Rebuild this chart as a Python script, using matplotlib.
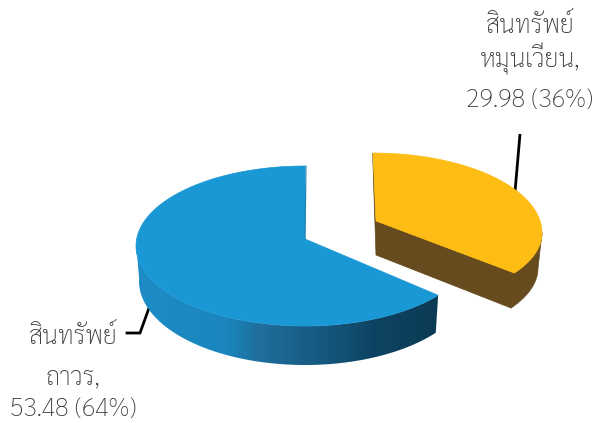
import numpy as np
import matplotlib
matplotlib.use('Agg')
import matplotlib.pyplot as plt
from matplotlib.colors import LinearSegmentedColormap
from matplotlib.patches import Polygon

names = ["สินทรัพย์\nถาวร", "สินทรัพย์\nหมุนเวียน"]
values = [53.48, 29.98]
pct_labels = ["53.48 (64%)", "29.98 (36%)"]

W, H = 598, 423
YELLOW_TOP = '#fdbd14'
YELLOW_SIDE = '#654b1e'
BLUE_TOP = '#1a98d5'
TEXT = '#3a3a3a'

plt.rcParams['font.family'] = ['Sarabun', 'DejaVu Sans']

fig = plt.figure(figsize=(W / 100, H / 100), dpi=100)
ax = fig.add_axes([0, 0, 1, 1])
ax.set_xlim(0, W)
ax.set_ylim(H, 0)
ax.axis('off')

share = values[1] / sum(values)
sweep = 360 * share


def arc(cx, cy, rx, ry_back, ry_front, t0, t1):
    # t runs clockwise from the top of the ellipse, in degrees
    t = np.radians(np.linspace(t0, t1, 200))
    c = np.cos(t)
    ry = np.where(c > 0, ry_back, ry_front)
    return np.column_stack([cx + rx * np.sin(t), cy - ry * c])


# leader lines sit behind the pie
ax.plot([520, 515], [134, 192], color='black', lw=2, solid_capstyle='butt')
ax.plot([127, 140, 149], [333, 333, 308], color='black', lw=2, solid_joinstyle='miter')

# blue slice
t_end = sweep * 0.99
top = arc(305, 246, 169, 80, 80, t_end, 360)
front = arc(305, 246, 169, 80, 80, t_end, 272)
bottom = arc(305, 281, 166, 84, 84, t_end, 272)
side = np.vstack([front, bottom[::-1]])
cmap = LinearSegmentedColormap.from_list('side', [
    (0.0, '#1d8cc6'), (0.3, '#1a86bd'), (0.40, '#1f6f9e'), (0.62, '#15587e'),
    (0.78, '#0e4463'), (1.0, '#0b3a55')])
im = ax.imshow(np.linspace(0, 1, 300).reshape(1, -1), cmap=cmap, aspect='auto',
               extent=[136, 439, 370, 240], zorder=2)
side_patch = Polygon(side, closed=True, transform=ax.transData, fc='none', ec='none')
ax.add_patch(side_patch)
im.set_clip_path(side_patch)
ax.set_xlim(0, W)
ax.set_ylim(H, 0)
ax.add_patch(Polygon(np.vstack([[305, 239], top]), closed=True, fc=BLUE_TOP, ec=BLUE_TOP, lw=0.5, zorder=3))
ax.plot([306, 305], [166, 239], color='#1a7fa8', lw=0.8, zorder=3)

# yellow slice, pulled out to the upper right
t_end = sweep * 0.953
top = arc(373, 233, 169, 80, 73, 0, t_end)
right = arc(373, 233, 169, 80, 73, 90, t_end)
bottom = arc(373, 268, 165, 80, 73, 90, t_end)
ax.add_patch(Polygon(np.vstack([right, bottom[::-1]]), closed=True, fc=YELLOW_SIDE, ec=YELLOW_SIDE, lw=0.5, zorder=2))
ax.add_patch(Polygon(np.array([[372.6, 153], [376, 255], bottom[-1], top[-1], [376, 221]]),
                     closed=True, fc=YELLOW_SIDE, ec=YELLOW_SIDE, lw=0.5, zorder=2))
ax.add_patch(Polygon(np.vstack([[376, 221], top]), closed=True, fc=YELLOW_TOP, ec=YELLOW_TOP, lw=0.5, zorder=3))

# labels
for i, (cx, ys) in enumerate([(73, (344, 384, 416)), (530, (33, 68, 107))]):
    lines = names[i].split("\n")
    lines[-1] += ","
    for line, y in zip(lines + [pct_labels[i]], ys):
        ax.text(cx, y, line, ha='center', va='baseline', fontsize=18, fontweight=200, color=TEXT)

fig.savefig('out.png', dpi=100)
